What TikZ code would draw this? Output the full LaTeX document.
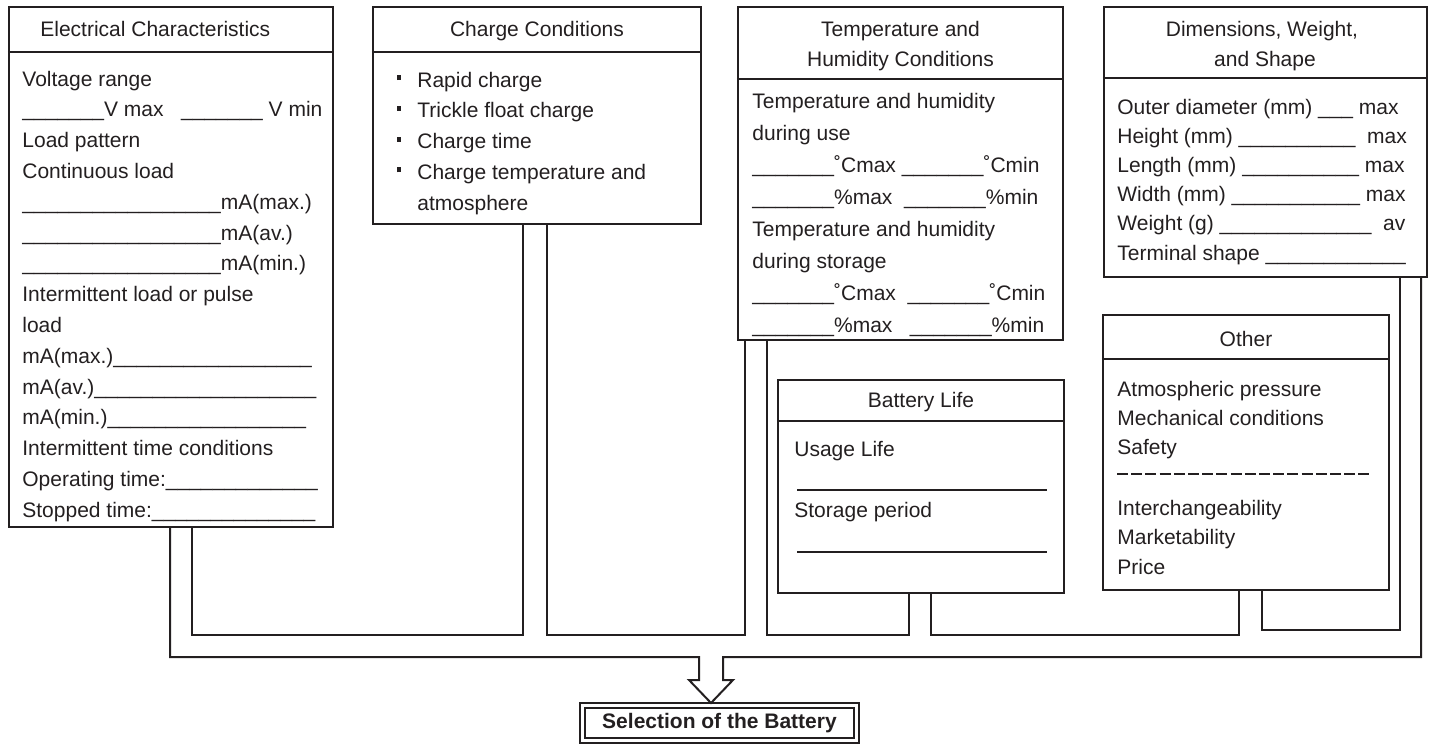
\documentclass[tikz,border=0pt]{standalone}
\usepackage{fontspec}
\setmainfont{Liberation Sans}
\ExplSyntaxOn
\cs_new:Npn \usc #1 { \prg_replicate:nn {#1} { \textunderscore } }
\ExplSyntaxOff
\definecolor{ink}{RGB}{35,31,32}
\newcommand\sqb{\llap{\rule[3.5pt]{2.4pt}{2.4pt}\hspace{8pt}}}
\begin{document}
\begin{tikzpicture}[x=0.5pt,y=-0.5pt,font=\fontsize{10.5}{12}\selectfont,
  box/.style={draw=ink,line width=1.1pt,inner sep=0pt},
  rule/.style={draw=ink,line width=1.1pt},
  txt/.style={anchor=base west,inner sep=0pt,text=ink},
  hdr/.style={anchor=base,inner sep=0pt,text=ink},
  pipe/.style={draw=ink,line width=1pt,line join=miter}]
\useasboundingbox (0,0) rectangle (1432,744);

% boxes
\node[box,minimum width=162pt,minimum height=260pt] (b1) at (171,267) {};
\node[box,minimum width=164pt,minimum height=108.5pt] (b2) at (537,115.5) {};
\node[box,minimum width=162.5pt,minimum height=166.5pt] (b3) at (900.5,173.5) {};
\node[box,minimum width=161.5pt,minimum height=135pt] (b4) at (1265.5,142) {};
\node[box,minimum width=143pt,minimum height=106.5pt] (b5) at (921,486.5) {};
\node[box,minimum width=143pt,minimum height=137.5pt] (b6) at (1246,452.5) {};

% header dividers
\draw[rule] (b1.north west) ++(0,46) -- ++(324,0);
\draw[rule] (b2.north west) ++(0,46) -- ++(328,0);
\draw[rule] (b3.north west) ++(0,73) -- ++(325,0);
\draw[rule] (b4.north west) ++(0,72) -- ++(323,0);
\draw[rule] (b5.north west) ++(0,42) -- ++(286,0);
\draw[rule] (b6.north west) ++(0,45) -- ++(286,0);

% Electrical Characteristics
\node[txt] (b1h) at (40,37) {Electrical Characteristics};
\foreach \t [count=\i from 0] in {{Voltage range},{\usc{7}V max\ \ \ \usc{7} V min},{Load pattern},{Continuous load},
  {\usc{17}mA(max.)},{\usc{17}mA(av.)},{\usc{17}mA(min.)},{Intermittent load or pulse},{load},
  {mA(max.)\usc{17}},{mA(av.)\usc{19}},{mA(min.)\usc{17}},{Intermittent time conditions},
  {Operating time:\usc{13}},{Stopped time:\usc{14}}}
  \node[txt] (e\i) at (22,{86+30.8*\i}) {\t};

% Charge Conditions
\node[hdr] (b2h) at (537,37) {Charge Conditions};
\foreach \t [count=\i from 0] in {{\sqb Rapid charge},{\sqb Trickle float charge},{\sqb Charge time},
  {\sqb Charge temperature and},{atmosphere}}
  \node[txt] (c\i) at (417,{87+30.75*\i}) {\t};

% Temperature and Humidity
\node[hdr] (b3h1) at (900.5,37) {Temperature and};
\node[hdr] (b3h2) at (900.5,67) {Humidity Conditions};
\foreach \t [count=\i from 0] in {{Temperature and humidity},{during use},
  {\usc{7}˚Cmax \usc{7}˚Cmin},{\usc{7}\%max\ \ \usc{7}\%min},
  {Temperature and humidity},{during storage},
  {\usc{7}˚Cmax\ \ \usc{7}˚Cmin},{\usc{7}\%max\ \ \ \usc{7}\%min}}
  \node[txt] (t\i) at (752,{108+32.1*\i}) {\t};

% Dimensions
\node[hdr] (b4h1) at (1262,37) {Dimensions, Weight,};
\node[hdr] (b4h2) at (1265,67) {and Shape};
\foreach \t [count=\i from 0] in {{Outer diameter (mm) \usc{3} max},{Height (mm) \usc{10}\ \ max},
  {Length (mm) \usc{10} max},{Width (mm) \usc{11} max},{Weight (g) \usc{13}\ \ av},
  {Terminal shape \usc{12}}}
  \node[txt] (d\i) at (1117,{114+29.2*\i}) {\t};

% Battery Life
\node[hdr] (b5h) at (921,407) {Battery Life};
\node[txt] (u1) at (794,456) {Usage Life};
\node[txt] (u2) at (794,517) {Storage period};
\draw[rule] (797,490) -- (1047,490);
\draw[rule] (797,552) -- (1047,552);

% Other
\node[hdr] (b6h) at (1246,346) {Other};
\foreach \t/\y [count=\i] in {Atmospheric pressure/396,Mechanical conditions/425,Safety/454,
  Interchangeability/515,Marketability/544,Price/574}
  \node[txt] (o\i) at (1117,\y) {\t};
\draw[rule,line width=1.3pt,dash pattern=on 5.5pt off 1.6pt] (1117,474) -- (1370,474);

% Selection
\node[draw=ink,line width=1pt,double,double distance=1.5pt,minimum width=137pt,minimum height=17.5pt,
  inner sep=0pt,text=ink,font=\bfseries\fontsize{10.5}{12}\selectfont] (sel) at (719.5,723) {Selection of the Battery};
\coordinate (tip) at (711,703);

% connectors
\draw[pipe] (b1.south -| 170,0) |- (699,657) -- (699,680) -- (689,680) -- (tip)
  -- (733,680) -- (723,680) |- (1421,657) -- (b4.south -| 1421,0);
\draw[pipe] (b1.south -| 192,0) |- (523,635) -- (b2.south -| 523,0);
\draw[pipe] (b2.south -| 547,0) |- (745,635) -- (b3.south -| 745,0);
\draw[pipe] (b3.south -| 767,0) |- (909,635) -- (b5.south -| 909,0);
\draw[pipe] (b5.south -| 931,0) |- (1239,635) -- (b6.south -| 1239,0);
\draw[pipe] (b6.south -| 1262,0) |- (1400,630) -- (b4.south -| 1400,0);
\end{tikzpicture}
\end{document}
